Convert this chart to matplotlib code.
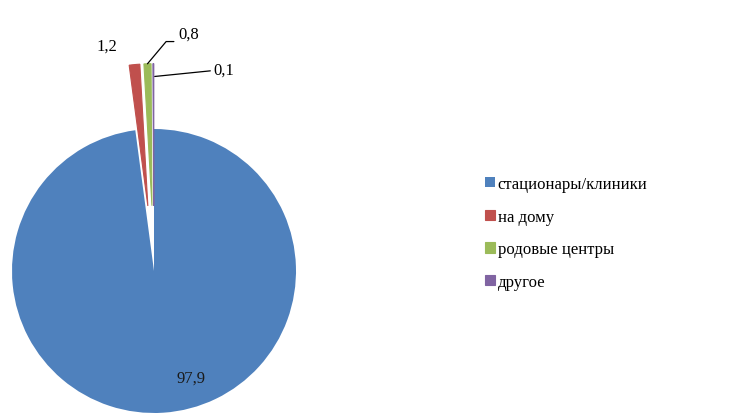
import matplotlib
matplotlib.use('Agg')
import matplotlib.pyplot as plt
import numpy as np

# доли мест родов, %
CATEGORIES = ['стационары/клиники', 'на дому', 'родовые центры', 'другое']
VALUES = [97.9, 1.2, 0.8, 0.1]
VALUE_LABELS = ['97,9', '1,2', '0,8', '0,1']
COLORS = ['#4F81BD', '#C0504D', '#9BBB59', '#8064A2']
EXPLODE = [0.0, 0.46, 0.46, 0.46]

plt.rcParams['font.family'] = ['Liberation Serif', 'DejaVu Serif']

W, H = 756, 414
R_PX = 142.0          # радиус круга в пикселях
CX, CY = 154, 272     # центр круга (пиксели, от верхнего левого угла)

fig = plt.figure(figsize=(W / 100, H / 100), dpi=100)
ax = fig.add_axes([0, 0, 1, 1])

wedges, _ = ax.pie(VALUES, colors=COLORS, startangle=90, counterclock=False,
                   explode=EXPLODE, radius=1.0,
                   wedgeprops=dict(linewidth=0))
# маленькие секторы на картинке чуть шире — обводка тем же цветом
for w, c in zip(wedges[1:], COLORS[1:]):
    w.set_edgecolor(c)
    w.set_linewidth(0.8)

# pie сам выставляет пределы — переопределяем после
ax.set_xlim(-CX / R_PX, (W - CX) / R_PX)
ax.set_ylim(-(H - CY) / R_PX, CY / R_PX)
ax.set_aspect('equal')
ax.axis('off')

# подпись большого сектора внутри
ax.text(0.26, -0.75, VALUE_LABELS[0], ha='center', va='center',
        fontsize=12, color='#1a1a1a')


def outer_point(w, ang):
    a = np.deg2rad(ang)
    cx, cy = w.center
    return cx + w.r * np.cos(a), cy + w.r * np.sin(a)


# 1,2 — без выноски
w = wedges[1]
x0, y0 = outer_point(w, w.theta2)
ax.annotate(VALUE_LABELS[1], xy=(x0, y0), xytext=(-16, 14),
            textcoords='offset points', ha='center', va='center', fontsize=12)

# 0,8 — выноска: горизонталь от текста, потом наклон к сектору
w = wedges[2]
x0, y0 = outer_point(w, (w.theta1 + w.theta2) / 2)
ax.annotate(VALUE_LABELS[2], xy=(x0, y0), xytext=(22, 16),
            textcoords='offset points', ha='left', va='bottom', fontsize=12,
            arrowprops=dict(arrowstyle='-', color='black', lw=0.9,
                            shrinkA=1, shrinkB=0, relpos=(0, 0),
                            connectionstyle='angle,angleA=180,angleB=50,rad=0'))

# 0,1 — выноска
w = wedges[3]
x0, y0 = outer_point(w, (w.theta1 + w.theta2) / 2)
ax.annotate(VALUE_LABELS[3], xy=(x0 + 0.01, y0 - 0.09), xytext=(42, 5),
            textcoords='offset points', ha='left', va='center', fontsize=12,
            arrowprops=dict(arrowstyle='-', color='black', lw=0.9,
                            shrinkA=0, shrinkB=0))

leg = fig.legend(wedges, CATEGORIES, loc='upper left',
                 bbox_to_anchor=(470 / W, 1 - 162 / H),
                 frameon=False, fontsize=12, handlelength=0.6, handleheight=0.6,
                 handletextpad=0.15, labelspacing=1.0)

fig.savefig('out.png', dpi=100)
